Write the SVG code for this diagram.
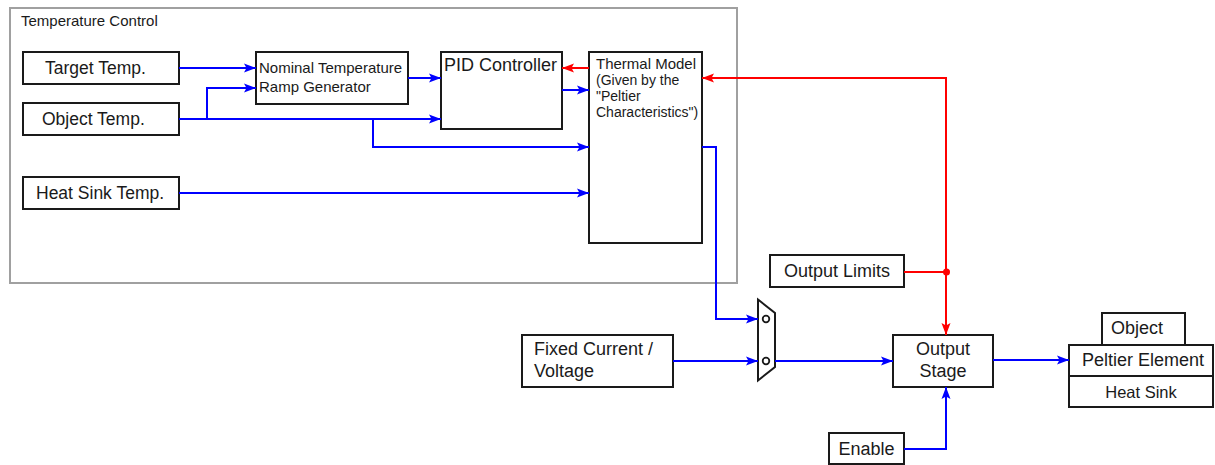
<svg xmlns="http://www.w3.org/2000/svg" width="1215" height="465" viewBox="0 0 1215 465">
<style>
.box{fill:#fff;stroke:#1a1a1a;stroke-width:2}
.t{font-family:"Liberation Sans",Arial,sans-serif;fill:#1a1a1a}
.b{fill:none;stroke:#0000ff;stroke-width:2}
.r{fill:none;stroke:#ff0000;stroke-width:2}
</style>
<defs>
<marker id="ab" markerUnits="userSpaceOnUse" markerWidth="12" markerHeight="10" refX="12" refY="5" orient="auto"><path d="M0,0.5 L12,5 L0,9.5 L2.5,5 z" fill="#0000ff"/></marker>
<marker id="ar" markerUnits="userSpaceOnUse" markerWidth="12" markerHeight="10" refX="12" refY="5" orient="auto"><path d="M0,0.5 L12,5 L0,9.5 L2.5,5 z" fill="#ff0000"/></marker>
</defs>
<g id="temperature-control">
<rect x="10" y="8" width="727" height="275" fill="none" stroke="#a0a0a0" stroke-width="2"/>
<text class="t" x="21" y="26" font-size="15">Temperature Control</text>
</g>
<g id="target-temp"><rect class="box" x="23" y="52" width="156" height="32"/><text class="t" x="45" y="74" font-size="17.5">Target Temp.</text></g>
<g id="object-temp"><rect class="box" x="23" y="103" width="156" height="32"/><text class="t" x="42" y="125" font-size="17.5">Object Temp.</text></g>
<g id="heat-sink-temp"><rect class="box" x="23" y="177" width="156" height="32"/><text class="t" x="36" y="199" font-size="17.5">Heat Sink Temp.</text></g>
<g id="ramp-generator"><rect class="box" x="256" y="52" width="152" height="52"/><text class="t" x="259" y="73" font-size="15">Nominal Temperature</text><text class="t" x="259" y="92" font-size="15">Ramp Generator</text></g>
<g id="pid-controller"><rect class="box" x="441" y="52" width="121" height="77"/><text class="t" x="444" y="71" font-size="18">PID Controller</text></g>
<g id="thermal-model"><rect class="box" x="589" y="52" width="113" height="191"/>
<text class="t" x="596" y="69" font-size="15">Thermal Model</text>
<text class="t" x="596" y="85" font-size="14">(Given by the</text>
<text class="t" x="596" y="101" font-size="14">"Peltier</text>
<text class="t" x="596" y="117" font-size="14">Characteristics")</text></g>
<g id="output-limits"><rect class="box" x="770" y="255" width="134" height="32"/><text class="t" x="837" y="277" font-size="18" text-anchor="middle">Output Limits</text></g>
<g id="fixed-current"><rect class="box" x="522" y="335" width="151" height="52"/><text class="t" x="534" y="355" font-size="18">Fixed Current /</text><text class="t" x="534" y="377" font-size="18">Voltage</text></g>
<g id="mux"><path d="M758,299.5 L775,313 L775,367 L758,380.5 Z" fill="#fff" stroke="#1a1a1a" stroke-width="2"/><circle cx="766" cy="319" r="3.3" fill="#fff" stroke="#1a1a1a" stroke-width="1.8"/><circle cx="766" cy="361" r="3.3" fill="#fff" stroke="#1a1a1a" stroke-width="1.8"/></g>
<g id="output-stage"><rect class="box" x="893" y="335" width="100" height="52"/><text class="t" x="943" y="355" font-size="18" text-anchor="middle">Output</text><text class="t" x="943" y="377" font-size="18" text-anchor="middle">Stage</text></g>
<g id="enable"><rect class="box" x="829" y="433" width="75" height="31"/><text class="t" x="866.5" y="455" font-size="18" text-anchor="middle">Enable</text></g>
<g id="peltier">
<rect class="box" x="1102" y="313" width="83" height="32"/><text class="t" x="1137" y="334" font-size="18" text-anchor="middle">Object</text>
<rect class="box" x="1069" y="345" width="144" height="31"/><text class="t" x="1143" y="366" font-size="18" text-anchor="middle">Peltier Element</text>
<rect class="box" x="1069" y="376" width="144" height="31"/><text class="t" x="1141" y="398" font-size="16.5" text-anchor="middle">Heat Sink</text>
</g>
<g id="connectors">
<path class="b" d="M179,68 H256" marker-end="url(#ab)"/>
<path class="b" d="M179,119 H441" marker-end="url(#ab)"/>
<path class="b" d="M207,119 V88 H256" marker-end="url(#ab)"/>
<path class="b" d="M373,119 V147 H589" marker-end="url(#ab)"/>
<path class="b" d="M179,193 H589" marker-end="url(#ab)"/>
<path class="b" d="M408,78 H441" marker-end="url(#ab)"/>
<path class="b" d="M562,90 H589" marker-end="url(#ab)"/>
<path class="r" d="M589,68 H562" marker-end="url(#ar)"/>
<path class="r" d="M946,272 V78 H702" marker-end="url(#ar)"/>
<path class="r" d="M904,272 H946 V335" marker-end="url(#ar)"/>
<circle cx="946.5" cy="272" r="3.5" fill="#ff0000"/>
<path class="b" d="M702,147 H716 V319 H758" marker-end="url(#ab)"/>
<path class="b" d="M673,361 H758" marker-end="url(#ab)"/>
<path class="b" d="M775,361 H893" marker-end="url(#ab)"/>
<path class="b" d="M904,449 H946 V387" marker-end="url(#ab)"/>
<path class="b" d="M993,360 H1069" marker-end="url(#ab)"/>
</g>
</svg>
